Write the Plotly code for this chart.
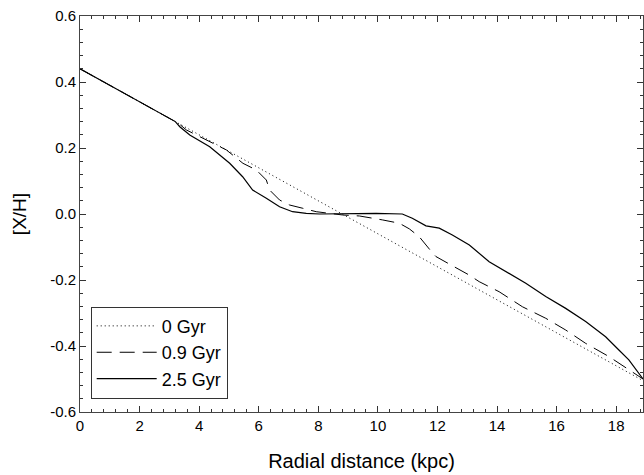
import plotly.graph_objects as go

# 0 Gyr (initial, straight gradient)
x0 = [0.0, 18.9]
y0 = [0.44, -0.505]

# 0.9 Gyr
x1 = [0.0, 3.3, 3.575, 4.13, 4.915, 5.47, 5.92, 6.255, 6.365, 6.70, 7.035, 7.48, 7.93, 8.82,
      9.38, 10.16, 10.72, 11.055, 11.39, 11.725, 11.95, 12.395, 13.065, 13.4, 14.07, 14.85,
      15.635, 16.305, 16.975, 17.755, 18.9]
y1 = [0.44, 0.275, 0.2545, 0.2294, 0.194, 0.1536, 0.1333, 0.103, 0.0727, 0.0424, 0.0273,
      0.0173, 0.007, -0.003, -0.006, -0.018, -0.028, -0.045, -0.069, -0.106, -0.129, -0.1515,
      -0.185, -0.205, -0.2355, -0.281, -0.316, -0.3515, -0.392, -0.432, -0.5]

# 2.5 Gyr
x2 = [0.0, 3.2, 3.35, 3.685, 4.355, 5.025, 5.46, 5.795, 6.255, 6.70, 7.136, 7.595, 8.04, 9.045,
      9.94, 10.82, 11.155, 11.615, 12.06, 12.5, 13.07, 13.735, 14.295, 14.965, 15.635, 16.305,
      16.975, 17.645, 18.09, 18.425, 18.9]
y2 = [0.44, 0.28, 0.2645, 0.2394, 0.204, 0.1536, 0.113, 0.0727, 0.0476, 0.022, 0.007, 0.002,
      0.0, 0.002, 0.002, 0.0, -0.013, -0.036, -0.043, -0.0636, -0.094, -0.1445, -0.175, -0.21,
      -0.25, -0.286, -0.326, -0.372, -0.412, -0.442, -0.5]

xticks = [0, 2, 4, 6, 8, 10, 12, 14, 16, 18]
yticks = [0.6, 0.4, 0.2, 0.0, -0.2, -0.4, -0.6]
yticktext = ["0.6", "0.4", "0.2", "0.0", "-0.2", "-0.4", "-0.6"]

names = ["0 Gyr", "0.9 Gyr", "2.5 Gyr"]

FONT = "Liberation Sans, Arial, sans-serif"

fig = go.Figure()
fig.add_trace(go.Scatter(x=x0, y=y0, mode="lines", name=names[0],
                         line=dict(color="black", width=1, dash="1px,3px")))
fig.add_trace(go.Scatter(x=x1, y=y1, mode="lines", name=names[1],
                         line=dict(color="black", width=1, dash="15px,8px")))
fig.add_trace(go.Scatter(x=x2, y=y2, mode="lines", name=names[2],
                         line=dict(color="black", width=1.2)))

axis_common = dict(
    showgrid=False, zeroline=False, showline=True, linecolor="#444", linewidth=1,
    mirror="ticks", ticks="inside", ticklen=6, tickwidth=1, tickcolor="#333",
    tickfont=dict(family=FONT, size=15, color="black"),
)

fig.update_xaxes(range=[0, 18.9], tickvals=xticks, ticktext=[str(v) for v in xticks],
                 minor=dict(dtick=0.4, tick0=0, ticks="inside", ticklen=3, tickcolor="#333"),
                 title=dict(text="Radial distance (kpc)", font=dict(family=FONT, size=20, color="black"),
                            standoff=20),
                 **axis_common)
fig.update_yaxes(range=[-0.6, 0.6], tickvals=yticks, ticktext=yticktext,
                 minor=dict(dtick=0.04, tick0=0, ticks="inside", ticklen=3, tickcolor="#333"),
                 title=dict(text="[X/H]", font=dict(family=FONT, size=19, color="black"),
                            standoff=18),
                 **axis_common)

fig.update_layout(
    width=644, height=475,
    margin=dict(l=80, r=1, t=16, b=63),
    paper_bgcolor="white", plot_bgcolor="white",
    font=dict(family=FONT, color="black"),
    legend=dict(x=0.019, y=0.266, xanchor="left", yanchor="top",
                bordercolor="#333", borderwidth=1, bgcolor="white",
                font=dict(family=FONT, size=18, color="black"),
                itemwidth=60, tracegroupgap=0),
    showlegend=True,
)

fig.write_html("out.html")
